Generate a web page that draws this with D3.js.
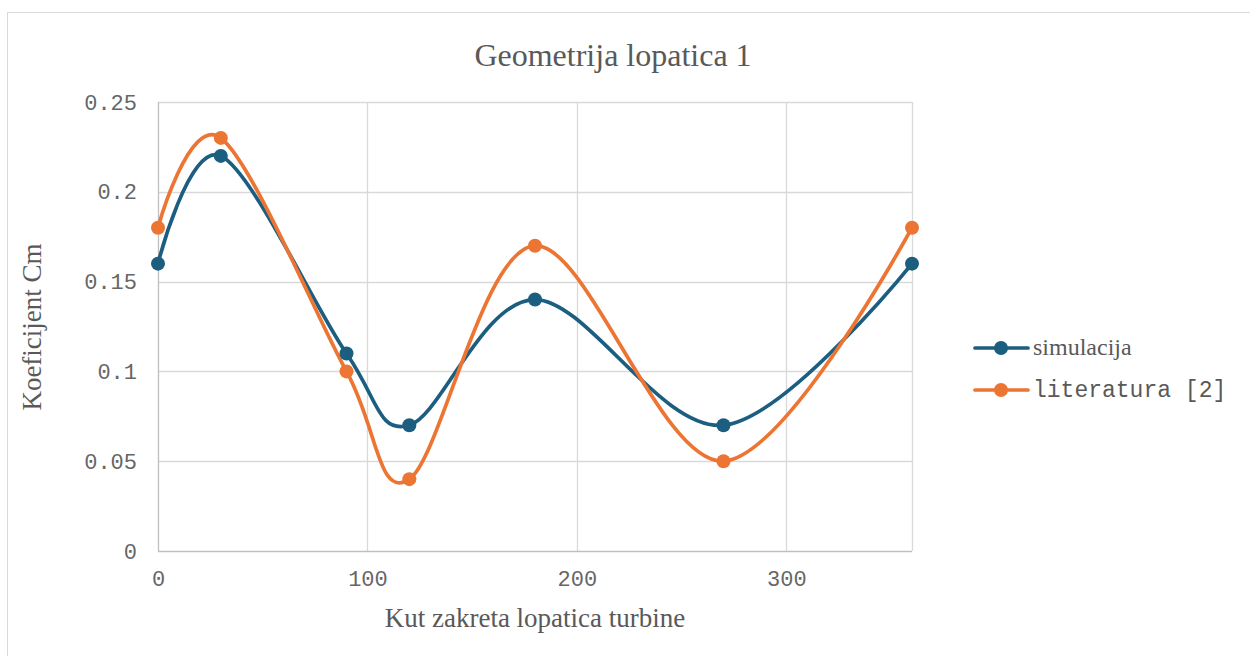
<!DOCTYPE html>
<html><head><meta charset="utf-8">
<script src="https://cdn.jsdelivr.net/npm/d3@7"></script>
<style>body{margin:0;background:#fff}</style>
</head><body>
<svg id="c" width="1250" height="656"></svg>
<script>
const angles = [0, 30, 90, 120, 180, 270, 360];
const simulacija = [0.16, 0.22, 0.11, 0.07, 0.14, 0.07, 0.16];
const literatura = [0.18, 0.23, 0.10, 0.04, 0.17, 0.05, 0.18];
const seriesNames = ["simulacija", "literatura [2]"];
const xTicks = [0, 100, 200, 300];
const yTicks = [0, 0.05, 0.1, 0.15, 0.2, 0.25];

const svg = d3.select("#c");
const serif = "'Liberation Serif','Times New Roman',serif";
const mono = "'Liberation Mono','Courier New',monospace";
svg.append("rect").attr("x",7.5).attr("y",12.5).attr("width",1260).attr("height",660)
  .attr("fill","#fff").attr("stroke","#d9d9d9");

const x = d3.scaleLinear().domain([0,360]).range([158,912]);
const y = d3.scaleLinear().domain([0,0.25]).range([551,102]);

// gridlines
const g = svg.append("g");
g.selectAll(".hy").data(yTicks.slice(1)).join("line")
  .attr("x1",x(0)).attr("x2",x(360)).attr("y1",d=>Math.round(y(d))+0.5).attr("y2",d=>Math.round(y(d))+0.5)
  .attr("stroke","#d9d9d9").attr("stroke-width",1.3);
g.selectAll(".vx").data(xTicks.slice(1).concat([360])).join("line")
  .attr("y1",y(0)).attr("y2",y(0.25)).attr("x1",d=>Math.round(x(d))+0.5).attr("x2",d=>Math.round(x(d))+0.5)
  .attr("stroke","#d9d9d9").attr("stroke-width",1.3);
// axes lines
g.append("line").attr("x1",x(0)).attr("x2",x(360)).attr("y1",Math.round(y(0))+0.5).attr("y2",Math.round(y(0))+0.5).attr("stroke","#bfbfbf").attr("stroke-width",1.3);
g.append("line").attr("x1",Math.round(x(0))+0.5).attr("x2",Math.round(x(0))+0.5).attr("y1",y(0)).attr("y2",y(0.25)).attr("stroke","#bfbfbf").attr("stroke-width",1.3);

// tick labels
const yAxis = d3.axisLeft(y).tickValues(yTicks).tickSize(0).tickPadding(21).tickFormat(d=>d===0?"0":String(d));
const ya = svg.append("g").attr("transform",`translate(${x(0)},0)`).call(yAxis);
ya.select(".domain").remove();
ya.selectAll("text").attr("font-family",mono).attr("font-size",22).attr("fill","#666");
const xAxis = d3.axisBottom(x).tickValues(xTicks).tickSize(0).tickPadding(19).tickFormat(d3.format("d"));
const xa = svg.append("g").attr("transform",`translate(0,${y(0)})`).call(xAxis);
xa.select(".domain").remove();
xa.selectAll("text").attr("font-family",mono).attr("font-size",22).attr("fill","#666");

// titles
svg.append("text").attr("x",613).attr("y",66).attr("text-anchor","middle")
  .attr("font-family",serif).attr("font-size",32).attr("fill","#595959").text("Geometrija lopatica 1");
svg.append("text").attr("x",535).attr("y",627).attr("text-anchor","middle")
  .attr("font-family",serif).attr("font-size",27).attr("fill","#595959").text("Kut zakreta lopatica turbine");
svg.append("text").attr("transform","translate(41,327) rotate(-90)").attr("text-anchor","middle")
  .attr("font-family",serif).attr("font-size",27).attr("fill","#595959").text("Koeficijent Cm");

const colors = ["#1b5e80","#ec7533"];
const data = [simulacija, literatura];
const line = d3.line().x((d,i)=>x(angles[i])).y(d=>y(d)).curve(d3.curveCardinal.tension(0));
data.forEach((vals,k)=>{
  svg.append("path").attr("d",line(vals)).attr("fill","none").attr("stroke",colors[k]).attr("stroke-width",3.7).attr("stroke-linecap","round");
});
data.forEach((vals,k)=>{
  svg.append("g").selectAll("circle").data(vals).join("circle")
    .attr("cx",(d,i)=>x(angles[i])).attr("cy",d=>y(d)).attr("r",7).attr("fill",colors[k]);
});

// legend
const legY = [348, 390];
seriesNames.forEach((n,k)=>{
  svg.append("line").attr("x1",975).attr("x2",1028).attr("y1",legY[k]).attr("y2",legY[k]).attr("stroke",colors[k]).attr("stroke-width",3.7).attr("stroke-linecap","round");
  svg.append("circle").attr("cx",1001).attr("cy",legY[k]).attr("r",7).attr("fill",colors[k]);
  svg.append("text").attr("x",1033).attr("y",legY[k]+7).attr("font-family",k===0?serif:mono)
    .attr("font-size",k===0?24:23).attr("fill","#595959").text(n);
});
</script>
</body></html>
